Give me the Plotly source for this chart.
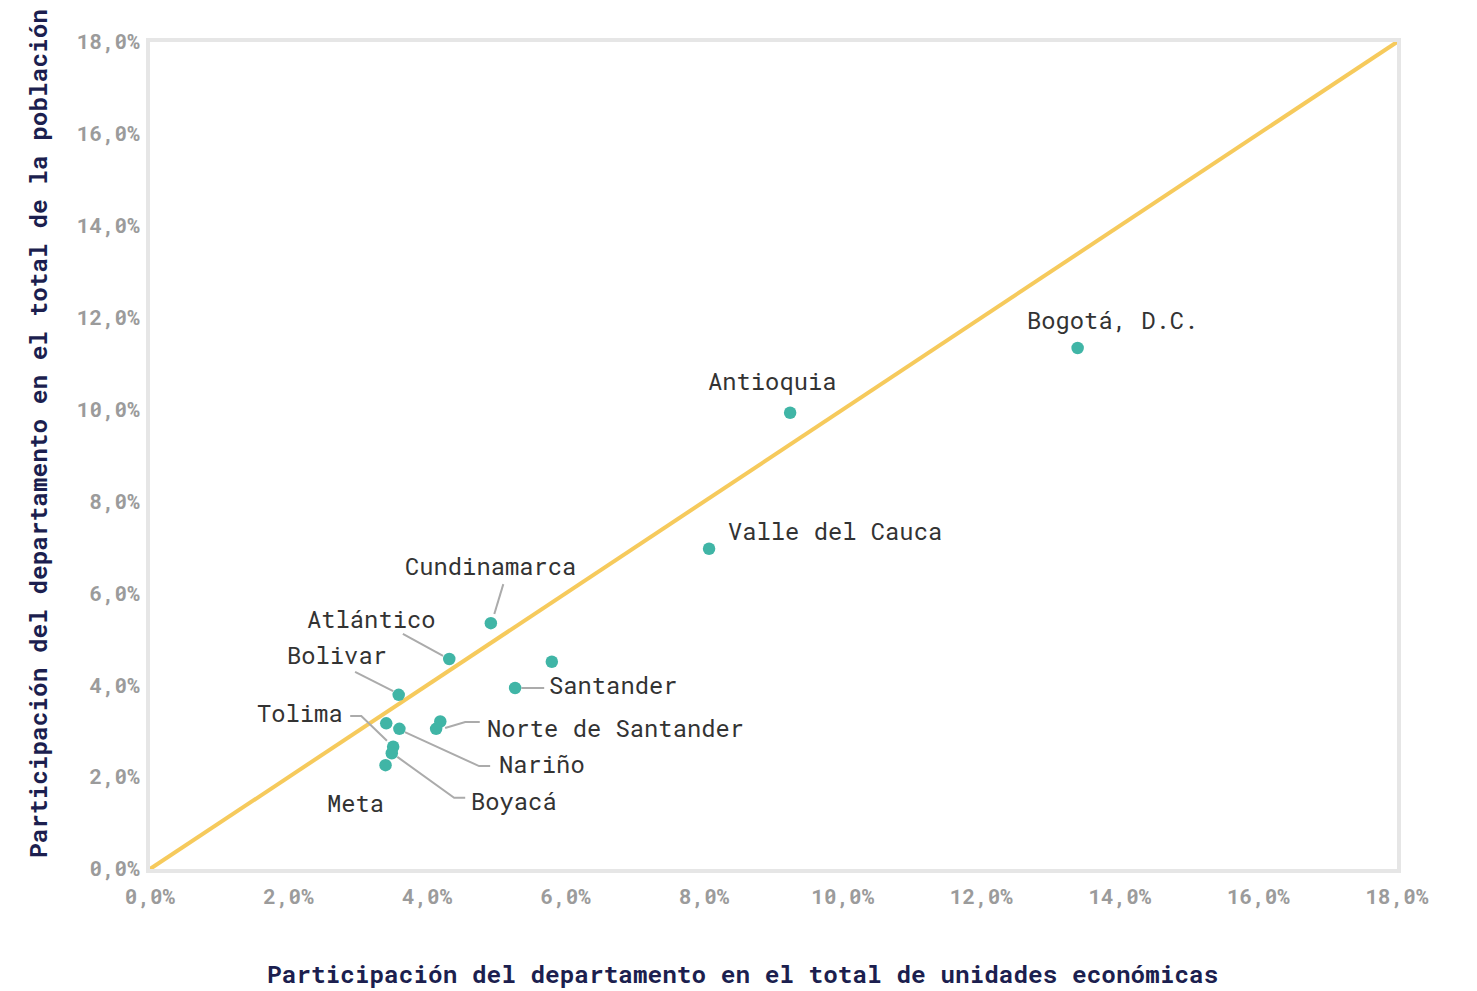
import plotly.graph_objects as go

# ---- data ----
names = ["Bogotá, D.C.", "Antioquia", "Valle del Cauca", "Cundinamarca", "Atlántico",
         "", "Santander", "Bolivar", "", "Norte de Santander", "",
         "Nariño", "Tolima", "Boyacá", "Meta"]
unidades = [13.39, 9.24, 8.07, 4.92, 4.32, 5.80, 5.27, 3.59, 4.19, 4.13, 3.41,
            3.60, 3.51, 3.49, 3.40]
poblacion = [11.34, 9.93, 6.97, 5.35, 4.57, 4.51, 3.94, 3.79, 3.21, 3.05, 3.17,
             3.05, 2.66, 2.52, 2.26]
tick_vals = [0, 2, 4, 6, 8, 10, 12, 14, 16, 18]
tick_text = ["0,0%", "2,0%", "4,0%", "6,0%", "8,0%", "10,0%", "12,0%", "14,0%", "16,0%", "18,0%"]
diag = [0, 18]

# ---- label layout (position of label text, anchor, leader path) ----
label_layout = {
    "Bogotá, D.C.": (13.89, 11.95, "center", None),
    "Antioquia": (8.99, 10.64, "center", None),
    "Valle del Cauca": (8.31, 7.36, "left", None),
    "Cundinamarca": (4.92, 6.61, "center", [(5.10, 6.20), (4.97, 5.55)]),
    "Atlántico": (3.19, 5.46, "center", [(3.65, 5.12), (4.23, 4.64)]),
    "Bolivar": (2.70, 4.66, "center", [(2.96, 4.29), (3.51, 3.87)]),
    "Santander": (5.73, 4.01, "left", [(5.36, 3.94), (5.69, 3.94)]),
    "Norte de Santander": (4.84, 3.09, "left", [(4.76, 3.20), (4.55, 3.20), (4.26, 3.07)]),
    "Tolima": (2.81, 3.40, "right", [(2.89, 3.33), (3.05, 3.33), (3.42, 2.79)]),
    "Nariño": (5.01, 2.29, "left", [(4.91, 2.24), (4.75, 2.24), (3.68, 2.98)]),
    "Boyacá": (4.60, 1.50, "left", [(4.55, 1.55), (4.39, 1.55), (3.57, 2.44)]),
    "Meta": (2.97, 1.44, "center", None),
}

MONO = "Roboto Mono, DejaVu Sans Mono, monospace"
fig = go.Figure()

fig.add_trace(go.Scatter(x=diag, y=diag, mode="lines",
                         line=dict(color="#f6ca5c", width=4), hoverinfo="skip"))

for nm in names:
    if nm in label_layout and label_layout[nm][3]:
        pts = label_layout[nm][3]
        fig.add_trace(go.Scatter(x=[p[0] for p in pts], y=[p[1] for p in pts], mode="lines",
                                 line=dict(color="#ababab", width=2), hoverinfo="skip"))

fig.add_trace(go.Scatter(x=unidades, y=poblacion, mode="markers", text=names,
                         marker=dict(color="#40b5a6", size=12.5, line=dict(width=0))))

for nm in names:
    if nm in label_layout:
        lx, ly, anc, _ = label_layout[nm]
        fig.add_annotation(x=lx, y=ly, text=nm, showarrow=False, xanchor=anc, yanchor="middle",
                           font=dict(family=MONO, size=23.8, color="#333333"))

axis_common = dict(range=[0, 18], tickvals=tick_vals, ticktext=tick_text, showgrid=False,
                   zeroline=False, showline=True, linecolor="#e6e6e6", linewidth=4, mirror=True,
                   tickfont=dict(family=MONO, size=21, color="#9b9b9b", weight="bold"),
                   fixedrange=True)
fig.update_xaxes(**axis_common, ticklabelstandoff=6)
fig.update_yaxes(**axis_common, ticklabelstandoff=2)

fig.add_annotation(xref="paper", yref="paper", x=(742 - 150) / 1247, y=-(973 - 869) / 827,
                   text="Participación del departamento en el total de unidades económicas",
                   showarrow=False, xanchor="center", yanchor="middle",
                   font=dict(family=MONO, size=24.4, color="#1c1f4f", weight="bold"))
fig.add_annotation(xref="paper", yref="paper", x=-(150 - 37) / 1247, y=(869 - 434) / 827,
                   text="Participación del departamento en el total de la población",
                   showarrow=False, textangle=-90, xanchor="center", yanchor="middle",
                   font=dict(family=MONO, size=24.4, color="#1c1f4f", weight="bold"))

# page body has an 8px default margin; compensate so plot area lands at 150..1397 x 42..869
fig.update_layout(width=1469, height=983, showlegend=False, plot_bgcolor="white",
                  paper_bgcolor="white", margin=dict(l=142, r=80, t=34, b=122))

fig.write_html("out.html")
